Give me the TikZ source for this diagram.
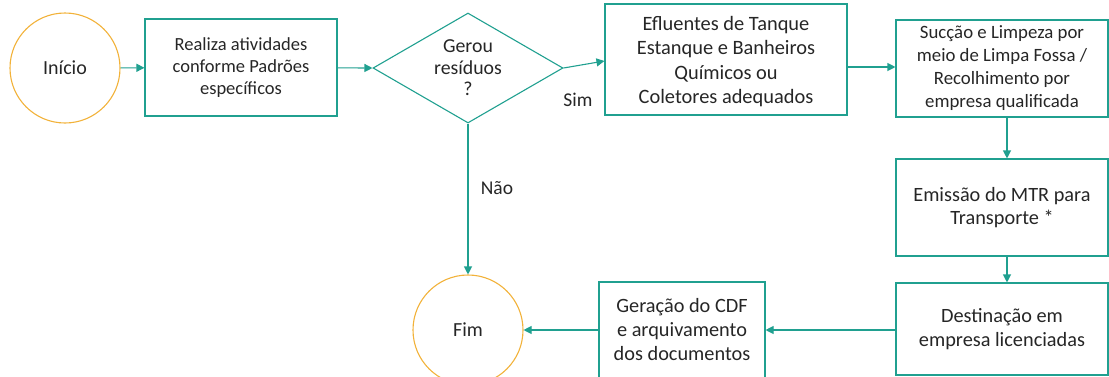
\documentclass[tikz,border=0pt]{standalone}
\usepackage{fontspec}
\setmainfont{Carlito}
\usetikzlibrary{shapes.geometric,arrows.meta}
\definecolor{teal}{HTML}{20A090}
\definecolor{gold}{HTML}{F2B23A}
\definecolor{txt}{HTML}{262626}
\begin{document}
\begin{tikzpicture}[x=1pt,y=-1pt,
  box/.style={draw=teal,line width=1.1pt,rectangle,inner sep=0pt,align=center,text=txt},
  term/.style={draw=gold,line width=1.1pt,circle,minimum size=110pt,inner sep=0pt,text=txt,font=\fontsize{20}{24}\selectfont},
  arr/.style={draw=teal,line width=1.1pt,-{Triangle[length=8pt,width=8pt]}},
  lbl/.style={text=txt,font=\fontsize{19.5}{23}\selectfont,inner sep=0pt}]
\useasboundingbox (0,0) rectangle (1109,376);
\node[term] (ini) at (65,68) {Início};
\node[box,minimum width=192pt,minimum height=97pt,font=\fontsize{18.5}{22}\selectfont] (b1) at (241,67.5) {Realiza atividades\\conforme Padrões\\específicos};
\node[draw=teal,line width=1.1pt,diamond,aspect=1.727,minimum width=190pt,minimum height=110pt,inner sep=0pt,align=center,text=txt,font=\fontsize{19.8}{21.5}\selectfont] (d) at (468,68) {Gerou\\resíduos\\?};
\node[box,minimum width=242pt,minimum height=111pt] (b2) at (726,59.5) {};
\node[align=center,text=txt,inner sep=0pt,font=\fontsize{20.4}{24.6}\selectfont] (b2t) at (726,61.5) {Efluentes de Tanque\\Estanque e Banheiros\\Químicos ou\\Coletores adequados};
\node[box,minimum width=212pt,minimum height=97pt,font=\fontsize{18.8}{23}\selectfont] (b3) at (1002,68.5) {Sucção e Limpeza por\\meio de Limpa Fossa /\\Recolhimento por\\empresa qualificada};
\node[box,minimum width=212pt,minimum height=97pt,font=\fontsize{20.3}{23}\selectfont] (b4) at (1002,207.5) {Emissão do MTR para\\Transporte *};
\node[box,minimum width=212pt,minimum height=92pt,font=\fontsize{20.3}{24}\selectfont] (b5) at (1002,329) {Destinação em\\empresa licenciadas};
\node[box,minimum width=166pt,minimum height=96pt,font=\fontsize{20.3}{24}\selectfont] (b6) at (682,330) {Geração do CDF\\e arquivamento\\dos documentos};
\node[term] (fim) at (468,330) {Fim};
\draw[arr] (ini) -- (b1);
\draw[arr] (b1) -- (d.west);
\draw[arr] (d.east) -- (b2.west |- 0,61);
\node[lbl] (sim) at (578,100) {Sim};
\draw[arr] (b2.east |- 0,67) -- (b3.west |- 0,67);
\draw[arr] (b3.south -| 1007,0) -- (b4.north -| 1007,0);
\draw[arr] (b4.south -| 1007,0) -- (b5.north -| 1007,0);
\draw[arr] (b5.west |- 0,330) -- (b6.east |- 0,330);
\draw[arr] (b6) -- (fim);
\draw[arr] (d.south) -- (fim.north);
\node[lbl] (nao) at (497,188) {Não};
\end{tikzpicture}
\end{document}
